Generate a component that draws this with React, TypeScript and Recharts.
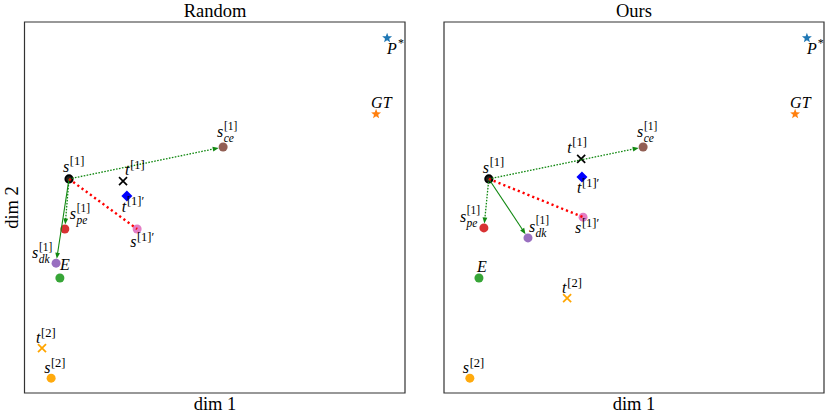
import React from 'react';
import { ScatterChart, Scatter, XAxis, YAxis, ReferenceLine, ReferenceArea } from 'recharts';

// ---------- data ----------
const POINT_IDS = ['Pstar', 'GT', 's_ce', 's1', 't1', 't1p', 's_pe', 's1p', 's_dk', 'E', 't2', 's2'];
const RANDOM_X = [95.3, 92.4, 52.2, 11.7, 25.9, 26.9, 10.6, 29.6, 8.3, 9.3, 4.6, 7.0];
const RANDOM_Y = [95.7, 75.2, 66.3, 57.7, 57.1, 53.1, 44.2, 44.2, 35.0, 31.0, 12.1, 4.0];
const OURS_X = [95.5, 92.4, 52.4, 11.8, 36.1, 36.3, 10.5, 36.6, 22.1, 9.2, 32.4, 6.8];
const OURS_Y = [95.7, 75.2, 66.3, 57.7, 63.1, 58.2, 44.5, 47.4, 41.8, 31.0, 25.6, 4.0];

const LABEL_BASE = ['P', 'GT', 's', 's', 't', 't', 's', 's', 's', 'E', 't', 's'];
const LABEL_SUP = ['*', '', '[1]', '[1]', '[1]', '[1]\u2032', '[1]', '[1]\u2032', '[1]', '', '[2]', '[2]'];
const LABEL_SUB = ['', '', 'ce', '', '', '', 'pe', '', 'dk', '', '', ''];

const EDGE_FROM = ['s1', 's1', 's1', 's1'];
const EDGE_TO = ['s_ce', 's_pe', 's_dk', 's1p'];
const EDGE_KIND = ['dotted-arrow', 'dotted-arrow', 'solid-arrow', 'red-dotted'];

const PANEL_TITLES = ['Random', 'Ours'];
const X_LABEL = 'dim 1';
const Y_LABEL = 'dim 2';

// ---------- styles ----------
const SERIF = '"Liberation Serif", "Times New Roman", serif';

const MARKERS: Record<string, { kind: string; color: string }> = {
  Pstar: { kind: 'star', color: '#1f77b4' },
  GT: { kind: 'star', color: '#ff7f0e' },
  s_ce: { kind: 'circle', color: '#8c564b' },
  s1: { kind: 'ring', color: '#000000' },
  t1: { kind: 'x', color: '#000000' },
  t1p: { kind: 'diamond', color: '#0000ff' },
  s_pe: { kind: 'circle', color: '#d62728' },
  s1p: { kind: 'circle', color: '#e377c2' },
  s_dk: { kind: 'circle', color: '#9467bd' },
  E: { kind: 'circle', color: '#2ca02c' },
  t2: { kind: 'x', color: '#ffa500' },
  s2: { kind: 'circle', color: '#ffa500' },
};

const OFFSETS_RANDOM: Record<string, [number, number]> = {
  Pstar: [0, 16], GT: [-5, -6], s_ce: [-6, -10], s1: [-6, -7], t1: [2, -6], t1p: [-5, 16],
  s_pe: [5, -10], s1p: [-7, 18], s_dk: [-24, -5], E: [0, -8], t2: [-6, -5], s2: [-7, -5],
};
const OFFSETS_OURS: Record<string, [number, number]> = {
  Pstar: [0, 16], GT: [-5, -6], s_ce: [-6, -10], s1: [-6, -6], t1: [-14, -6], t1p: [-5, 16],
  s_pe: [-24, -6], s1p: [-8, 16], s_dk: [1, -6], E: [-2, -6], t2: [-5, -5], s2: [-7, -5],
};

const BASE_WIDTH: Record<string, number> = { s: 6.2, t: 4.5, P: 9.8, E: 9.8, GT: 20.4 };

function buildData(xs: number[], ys: number[]) {
  return POINT_IDS.map((id, i) => ({
    id,
    x: xs[i],
    y: ys[i],
    base: LABEL_BASE[i],
    sup: LABEL_SUP[i],
    sub: LABEL_SUB[i],
  }));
}

function starPath(cx: number, cy: number, R: number, r: number) {
  let d = '';
  for (let i = 0; i < 10; i++) {
    const ang = -Math.PI / 2 + (i * Math.PI) / 5;
    const rad = i % 2 === 0 ? R : r;
    const px = cx + rad * Math.cos(ang);
    const py = cy + rad * Math.sin(ang);
    d += (i === 0 ? 'M' : 'L') + px.toFixed(2) + ',' + py.toFixed(2);
  }
  return d + 'Z';
}

function Marker({ cx, cy, id }: { cx: number; cy: number; id: string }) {
  const m = MARKERS[id];
  switch (m.kind) {
    case 'star':
      return <path d={starPath(cx, cy, 5.2, 2.2)} fill={m.color} />;
    case 'ring':
      return <circle cx={cx} cy={cy} r={3.7} fill="#222" stroke="#000" strokeWidth={1.8} />;
    case 'x':
      return (
        <g stroke={m.color} strokeWidth={1.7} strokeLinecap="butt">
          <line x1={cx - 4} y1={cy - 4} x2={cx + 4} y2={cy + 4} />
          <line x1={cx - 4} y1={cy + 4} x2={cx + 4} y2={cy - 4} />
        </g>
      );
    case 'diamond':
      return <path d={`M${cx},${cy - 5.5}L${cx + 5.5},${cy}L${cx},${cy + 5.5}L${cx - 5.5},${cy}Z`} fill={m.color} />;
    default:
      return <circle cx={cx} cy={cy} r={4.5} fill={m.color} fillOpacity={0.95} />;
  }
}

function MathLabel({ x, y, base, sup, sub }: { x: number; y: number; base: string; sup: string; sub: string }) {
  const bw = BASE_WIDTH[base] ?? 6;
  const star = sup === '*';
  const stacked = !!sub;
  const smallSize = stacked ? 11.5 : 12.5;
  const supRise = star ? 7 : stacked ? 7.5 : 6.5;
  const subDrop = 5.3;
  return (
    <text x={x} y={y} fontFamily={SERIF} fill="#000" fontSize={16}>
      <tspan fontStyle="italic">{base}</tspan>
      {sup ? (
        <tspan x={x + bw + (star ? 1 : 0.6)} dy={-supRise} fontSize={star ? 12 : smallSize} fontStyle="normal">
          {sup}
        </tspan>
      ) : null}
      {sub ? (
        <tspan x={x + bw + 0.4} dy={supRise + subDrop} fontSize={smallSize} fontStyle="italic">
          {sub}
        </tspan>
      ) : null}
    </text>
  );
}

function makePointShape() {
  return (props: any) => {
    const { cx, cy, payload } = props;
    if (cx == null || cy == null) return <g />;
    return <Marker cx={cx} cy={cy} id={payload.id} />;
  };
}

function makeLabelShape(offsets: Record<string, [number, number]>) {
  return (props: any) => {
    const { cx, cy, payload } = props;
    if (cx == null || cy == null) return <g />;
    const [dx, dy] = offsets[payload.id];
    return <MathLabel x={cx + dx} y={cy + dy} base={payload.base} sup={payload.sup} sub={payload.sub} />;
  };
}

function makeEdgeShape(kind: string) {
  return (props: any) => {
    const { x1, y1, x2, y2 } = props;
    if ([x1, y1, x2, y2].some((v) => v == null || isNaN(v))) return <g />;
    if (kind === 'red-dotted') {
      return (
        <line x1={x1} y1={y1} x2={x2} y2={y2} stroke="#ff0000" strokeWidth={2.4} strokeDasharray="2.2 3" />
      );
    }
    const dx = x2 - x1;
    const dy = y2 - y1;
    const len = Math.sqrt(dx * dx + dy * dy) || 1;
    const ux = dx / len;
    const uy = dy / len;
    const shrink = 4.5;
    const head = 6;
    const hw = 2.4;
    const tx = x2 - ux * shrink;
    const ty = y2 - uy * shrink;
    const bx = tx - ux * head;
    const by = ty - uy * head;
    const px = -uy * hw;
    const py = ux * hw;
    const color = '#118811';
    return (
      <g>
        <line
          x1={x1}
          y1={y1}
          x2={bx + ux * 1}
          y2={by + uy * 1}
          stroke={color}
          strokeWidth={kind === 'solid-arrow' ? 1.1 : 1.3}
          strokeDasharray={kind === 'solid-arrow' ? undefined : '1.6 1.4'}
        />
        <path d={`M${tx},${ty}L${bx + px},${by + py}L${bx - px},${by - py}Z`} fill={color} />
      </g>
    );
  };
}

function Panel({ xs, ys, offsets, left, marginLeft, marginRight }: any) {
  const data = buildData(xs, ys);
  const idx = (id: string) => POINT_IDS.indexOf(id);
  return (
    <div style={{ position: 'absolute', left, top: 0 }}>
      <ScatterChart width={415} height={415} margin={{ top: 22, right: marginRight, bottom: 22, left: marginLeft }}>
        <XAxis type="number" dataKey="x" domain={[0, 100]} hide allowDataOverflow />
        <YAxis type="number" dataKey="y" domain={[0, 100]} hide allowDataOverflow />
        <ReferenceArea x1={0} x2={100} y1={0} y2={100} fill="none" fillOpacity={0} stroke="#333" strokeWidth={1.2} ifOverflow="visible" />
        <Scatter data={data} shape={makePointShape()} isAnimationActive={false} />
        {EDGE_FROM.map((from, i) => {
          const a = idx(from);
          const b = idx(EDGE_TO[i]);
          return (
            <ReferenceLine
              key={i}
              segment={[
                { x: xs[a], y: ys[a] },
                { x: xs[b], y: ys[b] },
              ]}
              ifOverflow="visible"
              shape={makeEdgeShape(EDGE_KIND[i])}
              zIndex={700}
            />
          );
        })}
        <Scatter data={data} shape={makeLabelShape(offsets)} isAnimationActive={false} zIndex={800} />
      </ScatterChart>
    </div>
  );
}

export default function App() {
  return (
    <div style={{ position: 'absolute', left: 0, top: 0, width: 830, height: 415, background: '#fff', overflow: 'hidden' }}>
      <Panel xs={RANDOM_X} ys={RANDOM_Y} offsets={OFFSETS_RANDOM} left={0} marginLeft={24.5} marginRight={10} />
      <Panel xs={OURS_X} ys={OURS_Y} offsets={OFFSETS_OURS} left={415} marginLeft={29} marginRight={6} />
      <svg width={830} height={415} style={{ position: 'absolute', left: 0, top: 0, pointerEvents: 'none' }}>
        <g fontFamily={SERIF} fill="#000">
          <text x={215} y={16.5} fontSize={18.5} textAnchor="middle">{PANEL_TITLES[0]}</text>
          <text x={634} y={16.5} fontSize={18.5} textAnchor="middle">{PANEL_TITLES[1]}</text>
          <text x={215} y={410} fontSize={18.5} textAnchor="middle">{X_LABEL}</text>
          <text x={634} y={410} fontSize={18.5} textAnchor="middle">{X_LABEL}</text>
          <text x={18} y={207.5} fontSize={18.5} textAnchor="middle" transform="rotate(-90 18 207.5)">{Y_LABEL}</text>
        </g>
      </svg>
    </div>
  );
}
